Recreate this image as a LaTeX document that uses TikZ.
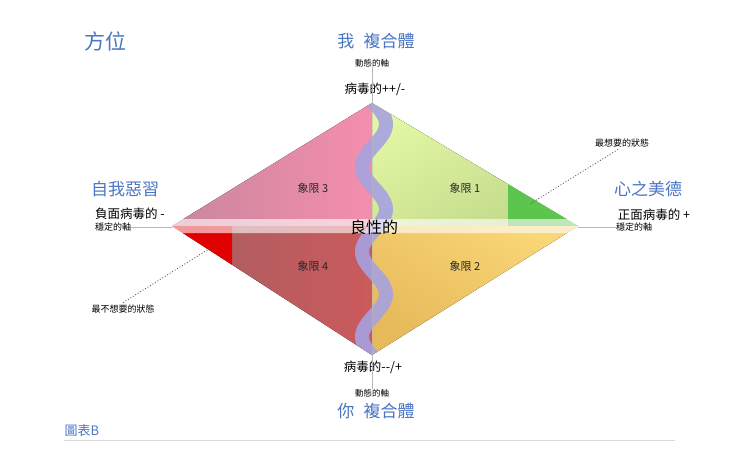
\documentclass[tikz,border=0pt]{standalone}
\usepackage{fontspec}
\setmainfont{Noto Sans CJK TC}
\usetikzlibrary{shadings}
\definecolor{ttl}{HTML}{4A76C4}
\definecolor{q3l}{HTML}{C8879D}
\definecolor{q3r}{HTML}{F58EAD}
\definecolor{q1l}{HTML}{E2F7A2}
\definecolor{q1r}{HTML}{C2D98C}
\definecolor{q1g}{HTML}{5CC54E}
\definecolor{q4l}{HTML}{A85E62}
\definecolor{q4r}{HTML}{CB5A5C}
\definecolor{q4red}{HTML}{E10000}
\definecolor{q2l}{HTML}{F9D676}
\definecolor{q2r}{HTML}{E6B95A}
\definecolor{wavec}{HTML}{A6A2E0}
\definecolor{axisc}{HTML}{B8B8B8}
\tikzset{
  title/.style={inner sep=0pt, text=ttl, font=\fontsize{17}{17}\selectfont},
  lbl/.style={inner sep=0pt, text=black, font=\fontsize{12.5}{13}\selectfont},
  tiny/.style={inner sep=0pt, text=black, font=\fontsize{9}{9}\selectfont},
  quad/.style={inner sep=0pt, text=black!85, font=\fontsize{11}{11}\selectfont},
  axisline/.style={draw=axisc, line width=0.6pt},
  dotline/.style={draw=black!65, line width=0.9pt, dotted},
  wave/.style={draw=wavec, opacity=0.9, line width=14pt}
}
\begin{document}
\begin{tikzpicture}[x=1pt,y=-1pt]
\useasboundingbox (0,0) rectangle (740,464);
\fill[white] (0,0) rectangle (740,464);
\coordinate (T) at (372,103);
\coordinate (L) at (172,226);
\coordinate (R) at (578,226);
\coordinate (B) at (372,355);
\coordinate (C) at (372,226);
% texts
\node[title, font=\fontsize{21}{21}\selectfont] (fangwei) at (105,41) {方位};
\node[title] (wo) at (376,41) {我\hspace{0.55em}複合體};
\node[tiny, font=\fontsize{8.5}{9}\selectfont] (dyntop) at (372,63) {動態的軸};
\node[lbl] (virtop) at (375,89) {病毒的++/-};
\node[title] (ziwo) at (125,189) {自我惡習};
\node[lbl] (neg) at (130,214) {負面病毒的 -};
\node[tiny] (stabL) at (113,227) {穩定的軸};
\node[title] (xin) at (648,189) {心之美德};
\node[lbl] (pos) at (654,215) {正面病毒的 +};
\node[tiny] (stabR) at (634,227) {穩定的軸};
\node[tiny] (want) at (622,143) {最想要的狀態};
\node[tiny] (nowant) at (123,309) {最不想要的狀態};
\node[lbl] (virbot) at (373,367) {病毒的{-}{-}/+};
\node[tiny, font=\fontsize{8.5}{9}\selectfont] (dynbot) at (372,393) {動態的軸};
\node[title] (ni) at (376,411) {你\hspace{0.55em}複合體};
\node[title, font=\fontsize{13}{13}\selectfont] (tubiao) at (82,431) {圖表B};
\coordinate (rl) at (64,440);
\coordinate (rr) at (675,440);
\draw[draw=black!15, line width=0.8pt] (rl) -- (rr);
% shadow
\fill[black, opacity=0.12, xshift=3pt, yshift=-4pt] (T)--(R)--(B)--(L)--cycle;
% quadrants
\fill[left color=q3l, right color=q3r] (L)--(T)--(C)--cycle;
\fill[top color=q1l, bottom color=q1r, shading angle=30] (T)--(R)--(C)--cycle;
\coordinate (g1) at (508,184.2);
\coordinate (g2) at (508,226);
\fill[q1g] (g1)--(R)--(g2)--cycle;
\fill[left color=q4l, right color=q4r] (L)--(C)--(B)--cycle;
\fill[top color=q2l, bottom color=q2r, shading angle=-30] (C)--(R)--(B)--cycle;
\coordinate (r1) at (232,226);
\coordinate (r2) at (232,264.7);
\fill[q4red] (L)--(r1)--(r2)--cycle;
% wave
\begin{scope}
\clip (T)--(R)--(B)--(L)--cycle;
\draw[wave] plot[domain=95:365, samples=120, variable=\t] ({374+12*sin(4.2353*(\t-103))},\t);
\end{scope}
% band
\fill[white, opacity=0.6] (166,226)--(174,219)--(576,219)--(584,226)--(576,233)--(174,233)--cycle;
\node[inner sep=0pt, font=\fontsize{16}{16}\selectfont] (liang) at (374,227) {良性的};
% quadrant labels
\node[quad] (q3) at (313,188) {象限 3};
\node[quad] (q1) at (465,188) {象限 1};
\node[quad] (q4) at (313,266) {象限 4};
\node[quad] (q2) at (465,266) {象限 2};
% axes
\draw[axisline] (dyntop.south) -- (T);
\draw[axisline, opacity=0.5] (T) -- (B);
\draw[axisline] (B) -- (dynbot.north);
\draw[axisline] (stabL.east) -- (stabL.east -| L);
\draw[axisline] (R |- stabR.west) -- (stabR.west);
% dotted leaders
\coordinate (gc) at (530,204);
\coordinate (rc) at (212,247);
\draw[dotline] ([xshift=-4pt,yshift=-2pt]want.south) -- (gc);
\draw[dotline] ([yshift=2pt]nowant.north) -- (rc);
\end{tikzpicture}
\end{document}
